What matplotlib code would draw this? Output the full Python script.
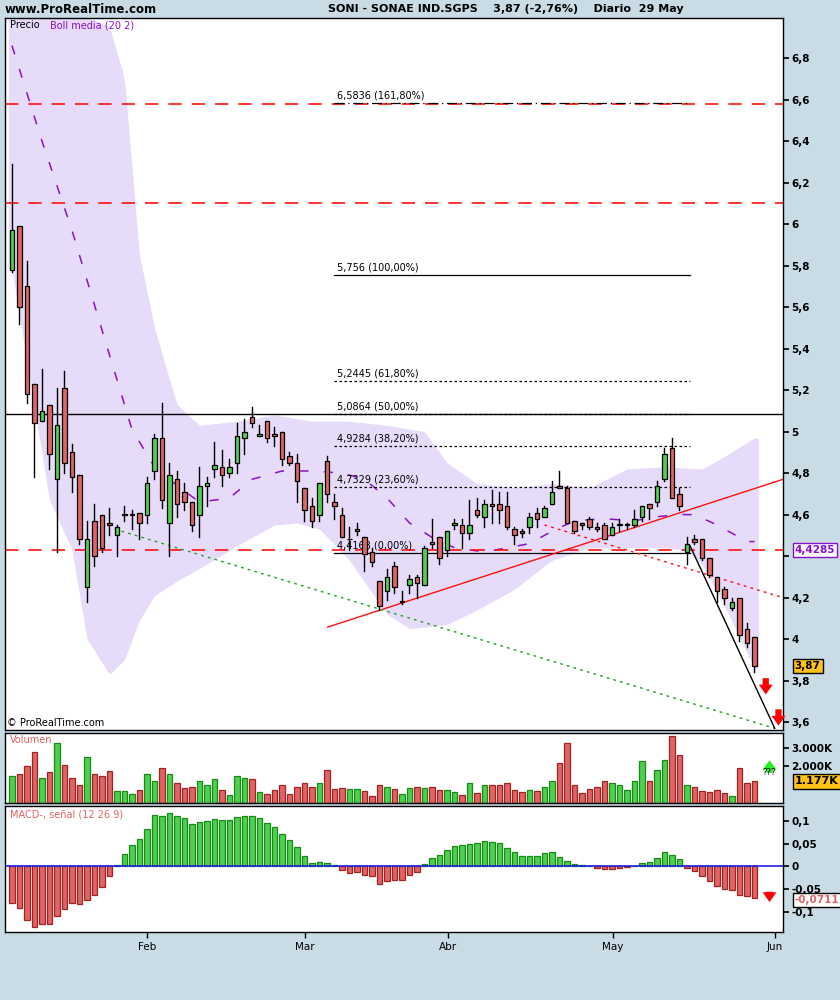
import matplotlib
matplotlib.use("Agg")
import matplotlib.pyplot as plt
import numpy as np
from matplotlib.patches import Rectangle

# ---------------- data ----------------
opens = [5.78,5.99,5.70,5.23,5.05,5.13,4.77,5.21,4.90,4.79,4.25,4.57,4.60,4.56,4.50,4.60,4.60,4.61,4.60,4.81,
         4.97,4.56,4.77,4.71,4.66,4.60,4.74,4.82,4.83,4.80,4.85,4.97,5.07,4.98,5.05,4.99,5.00,4.88,4.85,4.73,
         4.64,4.60,4.86,4.66,4.60,4.48,4.52,4.49,4.42,4.28,4.23,4.35,4.18,4.26,4.30,4.26,4.47,4.49,4.43,4.55,
         4.55,4.51,4.62,4.59,4.65,4.65,4.64,4.53,4.52,4.54,4.61,4.59,4.65,4.74,4.73,4.57,4.56,4.58,4.54,4.55,
         4.50,4.55,4.55,4.55,4.59,4.65,4.66,4.77,4.92,4.70,4.42,4.48,4.48,4.39,4.30,4.24,4.15,4.20,4.05,4.01]
closes = [5.97,5.60,5.18,5.04,5.10,4.89,5.03,4.85,4.78,4.48,4.48,4.40,4.44,4.55,4.54,4.60,4.60,4.56,4.75,4.97,
          4.67,4.79,4.65,4.66,4.55,4.74,4.75,4.84,4.79,4.83,4.98,5.00,5.04,4.99,4.97,4.98,4.87,4.85,4.76,4.62,
          4.57,4.75,4.70,4.64,4.49,4.48,4.53,4.41,4.37,4.16,4.30,4.25,4.18,4.29,4.27,4.44,4.46,4.39,4.52,4.56,
          4.51,4.55,4.60,4.65,4.64,4.62,4.54,4.50,4.51,4.59,4.58,4.63,4.71,4.73,4.56,4.52,4.55,4.54,4.53,4.48,
          4.54,4.55,4.55,4.58,4.64,4.63,4.74,4.89,4.68,4.64,4.46,4.47,4.39,4.31,4.23,4.20,4.18,4.02,3.98,3.87]
highs = [6.29,5.99,5.82,5.23,5.30,5.13,5.21,5.29,4.94,4.79,4.57,4.65,4.60,4.63,4.55,4.64,4.62,4.61,4.78,4.99,
         5.14,4.85,4.81,4.75,4.66,4.83,4.78,4.95,4.91,4.87,5.04,5.06,5.12,5.03,5.05,5.02,5.00,4.90,4.89,4.73,
         4.68,4.75,4.88,4.70,4.63,4.54,4.56,4.49,4.44,4.28,4.34,4.37,4.23,4.31,4.31,4.45,4.58,4.49,4.52,4.58,
         4.58,4.67,4.68,4.67,4.72,4.71,4.71,4.54,4.53,4.61,4.63,4.64,4.76,4.81,4.74,4.57,4.56,4.59,4.56,4.56,
         4.56,4.58,4.56,4.62,4.64,4.65,4.76,4.92,4.97,4.73,4.49,4.50,4.48,4.39,4.30,4.25,4.20,4.20,4.08,4.01]
lows = [5.77,5.52,5.14,4.78,5.05,4.82,4.42,4.80,4.71,4.46,4.18,4.35,4.42,4.50,4.40,4.57,4.53,4.48,4.56,4.77,
        4.63,4.40,4.59,4.62,4.52,4.49,4.64,4.78,4.74,4.78,4.80,4.89,5.02,4.98,4.95,4.93,4.84,4.84,4.66,4.57,
        4.54,4.57,4.66,4.58,4.49,4.43,4.50,4.33,4.35,4.14,4.19,4.22,4.17,4.22,4.20,4.26,4.44,4.36,4.40,4.53,
        4.44,4.48,4.59,4.54,4.56,4.56,4.53,4.46,4.49,4.51,4.54,4.59,4.65,4.73,4.56,4.51,4.53,4.53,4.52,4.48,
        4.50,4.52,4.53,4.54,4.57,4.58,4.64,4.76,4.68,4.62,4.36,4.46,4.38,4.30,4.18,4.17,4.14,3.99,3.96,3.84]
volumes = [1450,1610,2050,2810,1390,1720,3300,2100,1390,1010,2530,1610,1500,1770,630,630,470,690,1610,1230,
           1940,1610,1070,800,900,1180,960,1290,690,420,1450,1390,1290,580,470,690,960,470,850,1120,
           850,1120,1830,740,800,740,740,630,360,960,900,740,470,800,900,800,850,690,690,580,
           420,1120,520,960,960,960,1120,690,580,690,630,850,1180,2210,3290,960,520,740,900,1230,
           1120,1010,690,1180,2320,1180,1830,2370,3670,2640,1010,850,630,580,690,520,360,1940,1120,1180]
macd = [-0.080,-0.093,-0.119,-0.135,-0.128,-0.128,-0.109,-0.095,-0.082,-0.084,-0.075,-0.064,-0.046,-0.021,0.002,
        0.026,0.046,0.060,0.082,0.113,0.110,0.117,0.110,0.106,0.093,0.097,0.099,0.104,0.102,0.102,0.108,0.110,
        0.110,0.106,0.095,0.086,0.071,0.057,0.042,0.022,0.007,0.009,0.007,0.002,-0.009,-0.015,-0.013,-0.020,
        -0.022,-0.038,-0.033,-0.031,-0.031,-0.020,-0.013,0.004,0.018,0.024,0.035,0.044,0.046,0.049,0.051,0.055,
        0.053,0.051,0.040,0.031,0.022,0.022,0.022,0.029,0.031,0.020,0.011,0.004,0.002,0.0,-0.003,-0.007,-0.007,
        -0.004,-0.002,0.0,0.007,0.009,0.018,0.031,0.024,0.015,-0.003,-0.011,-0.022,-0.033,-0.044,-0.051,-0.053,
        -0.063,-0.066,-0.071]

band_up_idx = [0,5,10,13,15,17,19,22,25,30,35,40,45,50,55,58,62,67,72,77,82,87,92,95,99]
band_up = [7.1,7.05,7.0,6.95,6.7,5.85,5.5,5.13,5.03,5.05,5.08,5.05,5.05,5.03,5.0,4.85,4.75,4.73,4.75,4.73,4.82,4.83,4.82,4.88,4.97]
band_lo_idx = [0,5,8,10,13,15,17,19,22,25,30,35,38,41,45,50,53,58,62,67,72,77,82,87,90,92,95,99]
band_lo = [5.78,4.67,4.43,4.0,3.83,3.90,4.09,4.21,4.28,4.34,4.45,4.55,4.56,4.53,4.38,4.12,4.05,4.07,4.14,4.24,4.38,4.44,4.44,4.44,4.43,4.36,4.16,3.86]
mid_idx = [0,4,8,12,16,19,22,25,29,32,36,40,44,47,50,53,56,59,63,66,69,72,75,79,83,86,89,91,94,98]
mid = [6.86,6.40,5.97,5.49,5.01,4.83,4.74,4.66,4.68,4.77,4.81,4.81,4.80,4.77,4.68,4.56,4.49,4.44,4.42,4.44,
       4.46,4.52,4.57,4.58,4.57,4.59,4.60,4.60,4.55,4.47]

fib_levels = [6.5836,5.756,5.2445,5.0864,4.9284,4.7329,4.4168]
fib_labels = ["6,5836 (161,80%)","5,756 (100,00%)","5,2445 (61,80%)","5,0864 (50,00%)",
              "4,9284 (38,20%)","4,7329 (23,60%)","4,4168 (0,00%)"]
fib_styles = [(0,(8,3,1,3)),"-",(0,(2,2)),(0,(2,2)),(0,(2,2)),(0,(2,2)),"-"]
red_hlines = [6.58,6.10,4.4285]
black_hline = 5.0864
red_trend = ([42.1,102.8],[4.058,4.77])
red_dotted = ([71.0,102.8],[4.55,4.20])
green_dotted = ([13.7,101.7],[4.53,3.57])
black_trend = ([90.4,101.7],[4.45,3.57])

month_pos = [18,39.1,58.1,80.1,101.7]
month_lbl = ["Feb","Mar","Abr","May","Jun"]
price_ticks = [3.6,3.8,4.0,4.2,4.4,4.6,4.8,5.0,5.2,5.4,5.6,5.8,6.0,6.2,6.4,6.6,6.8]

# ---------------- drawing ----------------
BG = "#c9dbe5"
GREEN = "#4fcf4f"; GEDGE = "#178a17"
RED = "#e06464"; REDGE = "#a52222"
ARROW = "simple,head_width=1.0,head_length=0.7,tail_width=0.45"

fig = plt.figure(figsize=(8.4,10), dpi=100, facecolor=BG)
L, W = 5/840, 778/840
axp = fig.add_axes([L, 0.270, W, 0.712])
axv = fig.add_axes([L, 0.197, W, 0.070], sharex=axp)
axm = fig.add_axes([L, 0.068, W, 0.126], sharex=axp)
x0, x1 = -0.93, 102.8
n = len(closes)
xs = np.arange(n)

for ax in (axp, axv, axm):
    ax.set_facecolor("white")
    ax.yaxis.tick_right()
    for s in ax.spines.values():
        s.set_color("black"); s.set_linewidth(1)
    ax.tick_params(axis="y", labelsize=7.5, length=4, width=1.2, pad=2)
    ax.tick_params(axis="x", labelbottom=False, length=0)

# price panel
axp.set_xlim(x0, x1)
axp.set_ylim(3.562, 6.993)
xf = np.linspace(-0.5, n - 0.5, 400)
up_i = np.interp(xf, band_up_idx, band_up)
lo_i = np.interp(xf, band_lo_idx, band_lo)
axp.fill_between(xf, lo_i, up_i, color="#e6dcfa", lw=0, zorder=1)
mid_i = np.interp(xs, mid_idx, mid)
axp.plot(xs, mid_i, color="#8a10c8", lw=1.1, ls=(0,(6,10)), zorder=2)

for y in red_hlines:
    axp.axhline(y, color="#ff1010", lw=1.2, ls=(0,(8,6)), zorder=2)
axp.axhline(black_hline, color="black", lw=1, zorder=2)
for lv, lb, st in zip(fib_levels, fib_labels, fib_styles):
    axp.plot([43.0, 90.4], [lv, lv], color="black", lw=0.9, ls=st, zorder=3)
    axp.text(43.3, lv + 0.012, lb, fontsize=7, va="bottom", ha="left", zorder=4)
axp.plot(*red_trend, color="#ff1010", lw=1, zorder=3)
axp.plot(*red_dotted, color="#ff1010", lw=1, ls=(0,(2,3)), zorder=3)
axp.plot(*green_dotted, color="#22a022", lw=1, ls=(0,(2,3)), zorder=3)
axp.plot(*black_trend, color="black", lw=1, zorder=3)

bw = 0.55
for i in range(n):
    o, c, h, l = opens[i], closes[i], highs[i], lows[i]
    up = c >= o
    axp.plot([i, i], [l, h], color="black", lw=1, zorder=5)
    bottom, height = min(o, c), max(abs(c - o), 0.004)
    axp.add_patch(Rectangle((i - bw/2, bottom), bw, height, facecolor=GREEN if up else RED,
                            edgecolor="black", lw=0.9, zorder=6))

axp.set_yticks(price_ticks)
axp.set_yticklabels(["" if abs(t - 4.4) < 1e-9 else ("%g" % t).replace(".", ",") for t in price_ticks])
for t in axp.get_yticklabels():
    t.set_fontweight("bold")
axp.text(0.006, 0.997, "Precio", transform=axp.transAxes, fontsize=7, va="top")
axp.text(0.058, 0.997, "Boll media (20 2)", transform=axp.transAxes, fontsize=7, va="top", color="#8a10c8")
axp.text(0.002, 0.003, "© ProRealTime.com", transform=axp.transAxes, fontsize=7, va="bottom")
axp.text(1.015, 4.4285, "4,4285", transform=axp.get_yaxis_transform(), fontsize=7.5, fontweight="bold",
         color="#8a10c8", va="center", bbox=dict(fc="white", ec="#8a10c8", pad=1.5), clip_on=False)
axp.text(1.015, closes[-1], "3,87", transform=axp.get_yaxis_transform(), fontsize=7.5, fontweight="bold",
         va="center", bbox=dict(fc="#ffc21a", ec="black", pad=1.5), clip_on=False)
for xa, ya in [(100.5, 3.78), (102.2, 3.63)]:
    axp.annotate("", xy=(xa, ya - 0.06), xytext=(xa, ya + 0.045),
                 arrowprops=dict(arrowstyle=ARROW, color="red", lw=0), annotation_clip=False, zorder=8)

# volume panel
vcol = [GREEN if closes[i] >= opens[i] else RED for i in range(n)]
vedge = [GEDGE if closes[i] >= opens[i] else REDGE for i in range(n)]
axv.bar(xs, volumes, width=0.68, color=vcol, edgecolor=vedge, lw=0.9)
axv.set_ylim(0, 3830)
axv.set_yticks([2000, 3000])
axv.set_yticklabels(["2.000K", "3.000K"])
for t in axv.get_yticklabels():
    t.set_fontweight("bold")
axv.text(0.006, 0.97, "Volumen", transform=axv.transAxes, fontsize=7, va="top", color="#e06464")
axv.text(1.015, 1177, "1.177K", transform=axv.get_yaxis_transform(), fontsize=8, fontweight="bold",
         va="center", bbox=dict(fc="#ffc21a", ec="black", pad=1.5), clip_on=False)
axv.annotate("", xy=(101.0, 2500), xytext=(101.0, 1500),
             arrowprops=dict(arrowstyle=ARROW, color="#22ee22", lw=0), annotation_clip=False)
axv.text(101.0, 1650, "???", fontsize=6, ha="center", va="center", clip_on=False)

# MACD panel
mcol = [GREEN if v >= 0 else RED for v in macd]
medge = [GEDGE if v >= 0 else REDGE for v in macd]
axm.bar(xs, macd, width=0.68, color=mcol, edgecolor=medge, lw=0.9)
axm.axhline(0, color="#2020e0", lw=1.2)
axm.set_ylim(-0.145, 0.133)
axm.set_yticks([-0.1, -0.05, 0, 0.05, 0.1])
axm.set_yticklabels(["-0,1", "-0,05", "0", "0,05", "0,1"])
for t in axm.get_yticklabels():
    t.set_fontweight("bold")
axm.text(0.006, 0.975, "MACD-, señal (12 26 9)", transform=axm.transAxes, fontsize=7, va="top", color="#e06464")
axm.text(1.015, macd[-1] - 0.004, "-0,0711", transform=axm.get_yaxis_transform(), fontsize=7.5, fontweight="bold",
         color="#e06464", va="center", bbox=dict(fc="white", ec="black", pad=1.5), clip_on=False, zorder=10)
axm.annotate("", xy=(101.0, -0.085), xytext=(101.0, -0.050),
             arrowprops=dict(arrowstyle=ARROW, color="red", lw=0), annotation_clip=False)
axm.set_xticks(month_pos)
axm.set_xticklabels(month_lbl)
axm.tick_params(axis="x", labelbottom=True, length=4, width=1, labelsize=7.5, direction="out")

fig.text(0.005, 0.9905, "www.ProRealTime.com", fontsize=8.5, fontweight="bold", va="center")
fig.text(0.39, 0.9905, "SONI - SONAE IND.SGPS    3,87 (-2,76%)    Diario  29 May", fontsize=8,
         fontweight="bold", va="center")

fig.savefig("out.png", dpi=100, facecolor=BG)
